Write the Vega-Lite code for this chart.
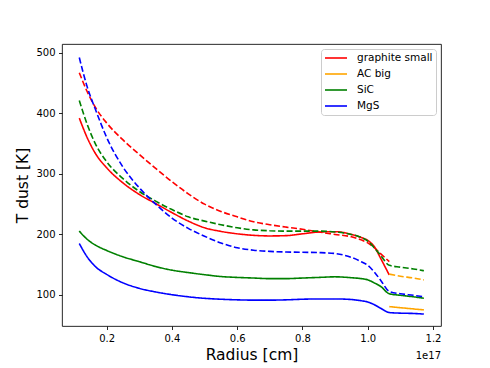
{
  "$schema": "https://vega.github.io/schema/vega-lite/v6.json",
  "width": 379,
  "height": 282,
  "autosize": "none",
  "padding": {"left": 62, "top": 44, "right": 49, "bottom": 42},
  "background": "white",
  "config": {
    "font": "DejaVu Sans",
    "view": {"stroke": "black", "strokeWidth": 0.85},
    "axis": {
      "grid": false,
      "domain": false,
      "tickColor": "black",
      "tickWidth": 0.85,
      "tickSize": 3.5,
      "labelColor": "black",
      "labelFontSize": 10,
      "labelPadding": 3.5,
      "titleColor": "black",
      "titleFontSize": 15.5,
      "titleFontWeight": "normal"
    },
    "legend": {
      "orient": "top-right",
      "offset": 5,
      "padding": 3,
      "strokeColor": "#cccccc",
      "fillColor": "rgba(255,255,255,0.8)",
      "cornerRadius": 3,
      "labelFontSize": 10.5,
      "labelColor": "black",
      "symbolType": "M-1,0H3.4",
      "symbolStrokeWidth": 1.6,
      "symbolSize": 100,
      "labelOffset": 21,
      "rowPadding": 4
    }
  },
  "layer": [
    {
      "data": {
        "values": [
          {"radius": 0.116, "T": 392, "dust": "graphite small", "line": "solid"},
          {"radius": 0.14, "T": 360, "dust": "graphite small", "line": "solid"},
          {"radius": 0.165, "T": 334, "dust": "graphite small", "line": "solid"},
          {"radius": 0.2, "T": 310, "dust": "graphite small", "line": "solid"},
          {"radius": 0.25, "T": 285, "dust": "graphite small", "line": "solid"},
          {"radius": 0.3, "T": 266, "dust": "graphite small", "line": "solid"},
          {"radius": 0.35, "T": 251, "dust": "graphite small", "line": "solid"},
          {"radius": 0.4, "T": 236, "dust": "graphite small", "line": "solid"},
          {"radius": 0.45, "T": 222, "dust": "graphite small", "line": "solid"},
          {"radius": 0.5, "T": 211, "dust": "graphite small", "line": "solid"},
          {"radius": 0.55, "T": 205, "dust": "graphite small", "line": "solid"},
          {"radius": 0.6, "T": 201, "dust": "graphite small", "line": "solid"},
          {"radius": 0.65, "T": 198.5, "dust": "graphite small", "line": "solid"},
          {"radius": 0.7, "T": 197.5, "dust": "graphite small", "line": "solid"},
          {"radius": 0.75, "T": 198, "dust": "graphite small", "line": "solid"},
          {"radius": 0.8, "T": 201, "dust": "graphite small", "line": "solid"},
          {"radius": 0.85, "T": 204, "dust": "graphite small", "line": "solid"},
          {"radius": 0.9, "T": 204.5, "dust": "graphite small", "line": "solid"},
          {"radius": 0.95, "T": 200, "dust": "graphite small", "line": "solid"},
          {"radius": 0.98, "T": 195, "dust": "graphite small", "line": "solid"},
          {"radius": 1.0, "T": 190, "dust": "graphite small", "line": "solid"},
          {"radius": 1.02, "T": 180, "dust": "graphite small", "line": "solid"},
          {"radius": 1.04, "T": 160, "dust": "graphite small", "line": "solid"},
          {"radius": 1.066, "T": 133, "dust": "graphite small", "line": "solid"},

          {"radius": 0.116, "T": 467, "dust": "graphite small", "line": "dashed"},
          {"radius": 0.14, "T": 436, "dust": "graphite small", "line": "dashed"},
          {"radius": 0.165, "T": 410, "dust": "graphite small", "line": "dashed"},
          {"radius": 0.2, "T": 384, "dust": "graphite small", "line": "dashed"},
          {"radius": 0.25, "T": 356, "dust": "graphite small", "line": "dashed"},
          {"radius": 0.3, "T": 332, "dust": "graphite small", "line": "dashed"},
          {"radius": 0.35, "T": 309, "dust": "graphite small", "line": "dashed"},
          {"radius": 0.4, "T": 287, "dust": "graphite small", "line": "dashed"},
          {"radius": 0.45, "T": 267, "dust": "graphite small", "line": "dashed"},
          {"radius": 0.5, "T": 250, "dust": "graphite small", "line": "dashed"},
          {"radius": 0.55, "T": 238, "dust": "graphite small", "line": "dashed"},
          {"radius": 0.6, "T": 229, "dust": "graphite small", "line": "dashed"},
          {"radius": 0.65, "T": 221, "dust": "graphite small", "line": "dashed"},
          {"radius": 0.7, "T": 216, "dust": "graphite small", "line": "dashed"},
          {"radius": 0.75, "T": 212, "dust": "graphite small", "line": "dashed"},
          {"radius": 0.8, "T": 208.5, "dust": "graphite small", "line": "dashed"},
          {"radius": 0.85, "T": 204, "dust": "graphite small", "line": "dashed"},
          {"radius": 0.9, "T": 200, "dust": "graphite small", "line": "dashed"},
          {"radius": 0.95, "T": 196, "dust": "graphite small", "line": "dashed"},
          {"radius": 0.98, "T": 191, "dust": "graphite small", "line": "dashed"},
          {"radius": 1.0, "T": 186, "dust": "graphite small", "line": "dashed"},
          {"radius": 1.02, "T": 178, "dust": "graphite small", "line": "dashed"},
          {"radius": 1.04, "T": 168, "dust": "graphite small", "line": "dashed"},
          {"radius": 1.066, "T": 155, "dust": "graphite small", "line": "dashed"},

          {"radius": 1.066, "T": 80.8, "dust": "AC big", "line": "solid"},
          {"radius": 1.1, "T": 79, "dust": "AC big", "line": "solid"},
          {"radius": 1.14, "T": 77, "dust": "AC big", "line": "solid"},
          {"radius": 1.172, "T": 75.4, "dust": "AC big", "line": "solid"},

          {"radius": 1.066, "T": 134.5, "dust": "AC big", "line": "dashed"},
          {"radius": 1.1, "T": 131, "dust": "AC big", "line": "dashed"},
          {"radius": 1.14, "T": 128, "dust": "AC big", "line": "dashed"},
          {"radius": 1.172, "T": 124.8, "dust": "AC big", "line": "dashed"},

          {"radius": 0.116, "T": 205.5, "dust": "SiC", "line": "solid"},
          {"radius": 0.14, "T": 192, "dust": "SiC", "line": "solid"},
          {"radius": 0.165, "T": 182.5, "dust": "SiC", "line": "solid"},
          {"radius": 0.2, "T": 173.5, "dust": "SiC", "line": "solid"},
          {"radius": 0.25, "T": 163, "dust": "SiC", "line": "solid"},
          {"radius": 0.3, "T": 155, "dust": "SiC", "line": "solid"},
          {"radius": 0.35, "T": 147, "dust": "SiC", "line": "solid"},
          {"radius": 0.4, "T": 141, "dust": "SiC", "line": "solid"},
          {"radius": 0.45, "T": 137, "dust": "SiC", "line": "solid"},
          {"radius": 0.5, "T": 133.5, "dust": "SiC", "line": "solid"},
          {"radius": 0.55, "T": 130.5, "dust": "SiC", "line": "solid"},
          {"radius": 0.6, "T": 129, "dust": "SiC", "line": "solid"},
          {"radius": 0.65, "T": 128, "dust": "SiC", "line": "solid"},
          {"radius": 0.7, "T": 127, "dust": "SiC", "line": "solid"},
          {"radius": 0.75, "T": 127, "dust": "SiC", "line": "solid"},
          {"radius": 0.8, "T": 128, "dust": "SiC", "line": "solid"},
          {"radius": 0.85, "T": 129, "dust": "SiC", "line": "solid"},
          {"radius": 0.9, "T": 130, "dust": "SiC", "line": "solid"},
          {"radius": 0.95, "T": 128.5, "dust": "SiC", "line": "solid"},
          {"radius": 0.98, "T": 127, "dust": "SiC", "line": "solid"},
          {"radius": 1.0, "T": 125, "dust": "SiC", "line": "solid"},
          {"radius": 1.02, "T": 120, "dust": "SiC", "line": "solid"},
          {"radius": 1.04, "T": 114, "dust": "SiC", "line": "solid"},
          {"radius": 1.066, "T": 102, "dust": "SiC", "line": "solid"},
          {"radius": 1.1, "T": 99.5, "dust": "SiC", "line": "solid"},
          {"radius": 1.14, "T": 97, "dust": "SiC", "line": "solid"},
          {"radius": 1.172, "T": 94.6, "dust": "SiC", "line": "solid"},

          {"radius": 0.116, "T": 421, "dust": "SiC", "line": "dashed"},
          {"radius": 0.14, "T": 382, "dust": "SiC", "line": "dashed"},
          {"radius": 0.165, "T": 350, "dust": "SiC", "line": "dashed"},
          {"radius": 0.2, "T": 320, "dust": "SiC", "line": "dashed"},
          {"radius": 0.25, "T": 292, "dust": "SiC", "line": "dashed"},
          {"radius": 0.3, "T": 271, "dust": "SiC", "line": "dashed"},
          {"radius": 0.35, "T": 255, "dust": "SiC", "line": "dashed"},
          {"radius": 0.4, "T": 241, "dust": "SiC", "line": "dashed"},
          {"radius": 0.45, "T": 229, "dust": "SiC", "line": "dashed"},
          {"radius": 0.5, "T": 222, "dust": "SiC", "line": "dashed"},
          {"radius": 0.55, "T": 216, "dust": "SiC", "line": "dashed"},
          {"radius": 0.6, "T": 211, "dust": "SiC", "line": "dashed"},
          {"radius": 0.65, "T": 207.5, "dust": "SiC", "line": "dashed"},
          {"radius": 0.7, "T": 206, "dust": "SiC", "line": "dashed"},
          {"radius": 0.75, "T": 205.5, "dust": "SiC", "line": "dashed"},
          {"radius": 0.8, "T": 205.5, "dust": "SiC", "line": "dashed"},
          {"radius": 0.85, "T": 205.5, "dust": "SiC", "line": "dashed"},
          {"radius": 0.9, "T": 204, "dust": "SiC", "line": "dashed"},
          {"radius": 0.95, "T": 200, "dust": "SiC", "line": "dashed"},
          {"radius": 0.98, "T": 195, "dust": "SiC", "line": "dashed"},
          {"radius": 1.0, "T": 189, "dust": "SiC", "line": "dashed"},
          {"radius": 1.02, "T": 178, "dust": "SiC", "line": "dashed"},
          {"radius": 1.04, "T": 165, "dust": "SiC", "line": "dashed"},
          {"radius": 1.066, "T": 149, "dust": "SiC", "line": "dashed"},
          {"radius": 1.1, "T": 146, "dust": "SiC", "line": "dashed"},
          {"radius": 1.14, "T": 143, "dust": "SiC", "line": "dashed"},
          {"radius": 1.172, "T": 140, "dust": "SiC", "line": "dashed"},

          {"radius": 0.116, "T": 185, "dust": "MgS", "line": "solid"},
          {"radius": 0.14, "T": 163, "dust": "MgS", "line": "solid"},
          {"radius": 0.165, "T": 147, "dust": "MgS", "line": "solid"},
          {"radius": 0.2, "T": 134, "dust": "MgS", "line": "solid"},
          {"radius": 0.25, "T": 120, "dust": "MgS", "line": "solid"},
          {"radius": 0.3, "T": 111, "dust": "MgS", "line": "solid"},
          {"radius": 0.35, "T": 105, "dust": "MgS", "line": "solid"},
          {"radius": 0.4, "T": 100.5, "dust": "MgS", "line": "solid"},
          {"radius": 0.45, "T": 97, "dust": "MgS", "line": "solid"},
          {"radius": 0.5, "T": 94.5, "dust": "MgS", "line": "solid"},
          {"radius": 0.55, "T": 93, "dust": "MgS", "line": "solid"},
          {"radius": 0.6, "T": 92, "dust": "MgS", "line": "solid"},
          {"radius": 0.65, "T": 91.5, "dust": "MgS", "line": "solid"},
          {"radius": 0.7, "T": 91.5, "dust": "MgS", "line": "solid"},
          {"radius": 0.75, "T": 92, "dust": "MgS", "line": "solid"},
          {"radius": 0.8, "T": 93, "dust": "MgS", "line": "solid"},
          {"radius": 0.85, "T": 93.5, "dust": "MgS", "line": "solid"},
          {"radius": 0.9, "T": 93.5, "dust": "MgS", "line": "solid"},
          {"radius": 0.95, "T": 92.5, "dust": "MgS", "line": "solid"},
          {"radius": 0.98, "T": 90.5, "dust": "MgS", "line": "solid"},
          {"radius": 1.0, "T": 88.5, "dust": "MgS", "line": "solid"},
          {"radius": 1.02, "T": 84, "dust": "MgS", "line": "solid"},
          {"radius": 1.04, "T": 78, "dust": "MgS", "line": "solid"},
          {"radius": 1.066, "T": 71, "dust": "MgS", "line": "solid"},
          {"radius": 1.1, "T": 70, "dust": "MgS", "line": "solid"},
          {"radius": 1.14, "T": 69.5, "dust": "MgS", "line": "solid"},
          {"radius": 1.172, "T": 68.5, "dust": "MgS", "line": "solid"},

          {"radius": 0.116, "T": 492, "dust": "MgS", "line": "dashed"},
          {"radius": 0.14, "T": 444, "dust": "MgS", "line": "dashed"},
          {"radius": 0.165, "T": 407, "dust": "MgS", "line": "dashed"},
          {"radius": 0.2, "T": 360, "dust": "MgS", "line": "dashed"},
          {"radius": 0.25, "T": 311, "dust": "MgS", "line": "dashed"},
          {"radius": 0.3, "T": 277, "dust": "MgS", "line": "dashed"},
          {"radius": 0.35, "T": 250, "dust": "MgS", "line": "dashed"},
          {"radius": 0.4, "T": 227, "dust": "MgS", "line": "dashed"},
          {"radius": 0.45, "T": 210, "dust": "MgS", "line": "dashed"},
          {"radius": 0.5, "T": 197, "dust": "MgS", "line": "dashed"},
          {"radius": 0.55, "T": 186, "dust": "MgS", "line": "dashed"},
          {"radius": 0.6, "T": 178, "dust": "MgS", "line": "dashed"},
          {"radius": 0.65, "T": 174, "dust": "MgS", "line": "dashed"},
          {"radius": 0.7, "T": 172, "dust": "MgS", "line": "dashed"},
          {"radius": 0.75, "T": 171, "dust": "MgS", "line": "dashed"},
          {"radius": 0.8, "T": 170.5, "dust": "MgS", "line": "dashed"},
          {"radius": 0.85, "T": 170, "dust": "MgS", "line": "dashed"},
          {"radius": 0.9, "T": 168.5, "dust": "MgS", "line": "dashed"},
          {"radius": 0.95, "T": 162, "dust": "MgS", "line": "dashed"},
          {"radius": 0.98, "T": 155, "dust": "MgS", "line": "dashed"},
          {"radius": 1.0, "T": 149, "dust": "MgS", "line": "dashed"},
          {"radius": 1.02, "T": 138, "dust": "MgS", "line": "dashed"},
          {"radius": 1.04, "T": 124, "dust": "MgS", "line": "dashed"},
          {"radius": 1.066, "T": 106, "dust": "MgS", "line": "dashed"},
          {"radius": 1.1, "T": 102, "dust": "MgS", "line": "dashed"},
          {"radius": 1.14, "T": 99.5, "dust": "MgS", "line": "dashed"},
          {"radius": 1.172, "T": 97, "dust": "MgS", "line": "dashed"}
        ]
      },
      "mark": {"type": "line", "strokeWidth": 1.6, "clip": true, "interpolate": "monotone"},
      "encoding": {
        "x": {
          "field": "radius",
          "type": "quantitative",
          "scale": {"domain": [0.063, 1.2245], "nice": false, "zero": false},
          "axis": {"values": [0.2, 0.4, 0.6, 0.8, 1.0, 1.2], "format": ".1f", "title": "Radius [cm]", "titlePadding": 4}
        },
        "y": {
          "field": "T",
          "type": "quantitative",
          "scale": {"domain": [48.8, 514.4], "nice": false, "zero": false},
          "axis": {"values": [100, 200, 300, 400, 500], "title": "T dust [K]", "titlePadding": 5}
        },
        "color": {
          "field": "dust",
          "type": "nominal",
          "scale": {"domain": ["graphite small", "AC big", "SiC", "MgS"], "range": ["#ff0000", "#ffa500", "#008000", "#0000ff"]},
          "legend": {"title": null}
        },
        "strokeDash": {
          "field": "line",
          "type": "nominal",
          "scale": {"domain": ["solid", "dashed"], "range": [[1, 0], [6, 2.6]]},
          "legend": null
        }
      }
    },
    {
      "data": {"values": [{}]},
      "mark": {"type": "text", "align": "right", "baseline": "middle", "fontSize": 10, "color": "black", "clip": false},
      "encoding": {
        "x": {"datum": 1.2245, "type": "quantitative"},
        "y": {"datum": 0, "type": "quantitative"},
        "text": {"value": "1e17"}
      }
    }
  ]
}
